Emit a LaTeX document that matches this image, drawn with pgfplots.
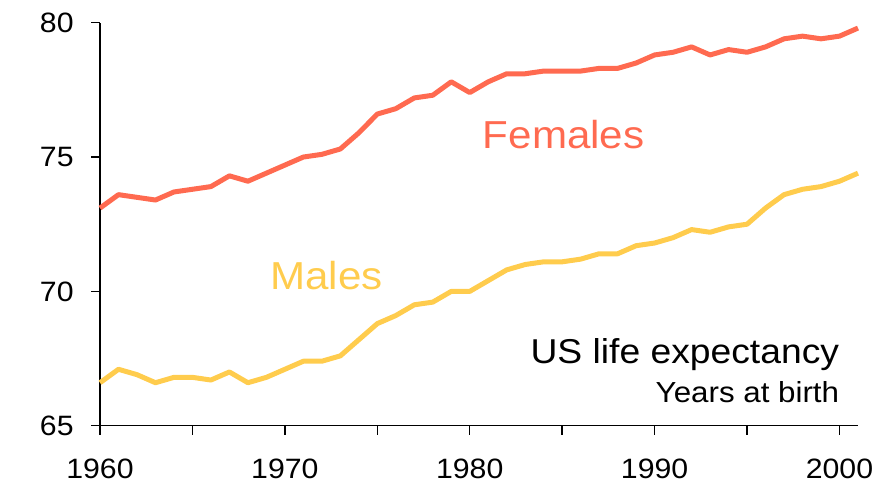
\documentclass[border=0pt]{standalone}
\usepackage{fontspec}
\setmainfont{Liberation Sans}[FakeStretch=1.08]
\usepackage{pgfplots}
\pgfplotsset{compat=1.18}
\definecolor{fem}{HTML}{FF6A50}
\definecolor{mal}{HTML}{FFCC4D}

\pgfplotstableread{
year male female
1960 66.6 73.1
1961 67.1 73.6
1962 66.9 73.5
1963 66.6 73.4
1964 66.8 73.7
1965 66.8 73.8
1966 66.7 73.9
1967 67.0 74.3
1968 66.6 74.1
1969 66.8 74.4
1970 67.1 74.7
1971 67.4 75.0
1972 67.4 75.1
1973 67.6 75.3
1974 68.2 75.9
1975 68.8 76.6
1976 69.1 76.8
1977 69.5 77.2
1978 69.6 77.3
1979 70.0 77.8
1980 70.0 77.4
1981 70.4 77.8
1982 70.8 78.1
1983 71.0 78.1
1984 71.1 78.2
1985 71.1 78.2
1986 71.2 78.2
1987 71.4 78.3
1988 71.4 78.3
1989 71.7 78.5
1990 71.8 78.8
1991 72.0 78.9
1992 72.3 79.1
1993 72.2 78.8
1994 72.4 79.0
1995 72.5 78.9
1996 73.1 79.1
1997 73.6 79.4
1998 73.8 79.5
1999 73.9 79.4
2000 74.1 79.5
2001 74.4 79.8
}\lifetab

\begin{document}
\begin{tikzpicture}
\begin{axis}[
  scale only axis, width=379pt, height=201.5pt,
  xmin=1960, xmax=2001, ymin=65, ymax=80,
  axis x line*=bottom, axis y line*=left,
  axis line style={line width=0.7pt, black},
  tick align=outside, major tick length=4.5pt,
  xtick={1960,1965,...,2000},
  xticklabels={1960,,1970,,1980,,1990,,2000},
  ytick={65,70,75,80},
  yticklabels={65,70,75,80},
  tick style={line width=0.7pt, black},
  ticklabel style={font=\fontsize{14}{16}\selectfont},
  xticklabel style={inner sep=0pt, anchor=north, yshift=-12pt},
  yticklabel style={inner sep=0pt, anchor=east, xshift=-8.5pt},
  clip=false,
]
  \addplot[fem, line width=2.5pt, line join=round] table[x=year, y=female] {\lifetab};
  \addplot[mal, line width=2.5pt, line join=round] table[x=year, y=male] {\lifetab};
  \node[anchor=base west, inner sep=0pt, text=fem, font=\fontsize{19.5}{22}\selectfont] at (axis cs:1980.69,75.33) {Females};
  \node[anchor=base west, inner sep=0pt, text=mal, font=\fontsize{19.5}{22}\selectfont] at (axis cs:1969.19,70.08) {Males};
  \node[anchor=base east, inner sep=0pt, font=\fontsize{17.25}{20}\selectfont] at (axis cs:2000,67.32) {US life expectancy};
  \node[anchor=base east, inner sep=0pt, font=\fontsize{14.5}{17}\selectfont] at (axis cs:2000,65.86) {Years at birth};
\end{axis}
\path (-50pt,-29.15pt) rectangle (389.5pt,212.85pt);
\end{tikzpicture}
\end{document}
